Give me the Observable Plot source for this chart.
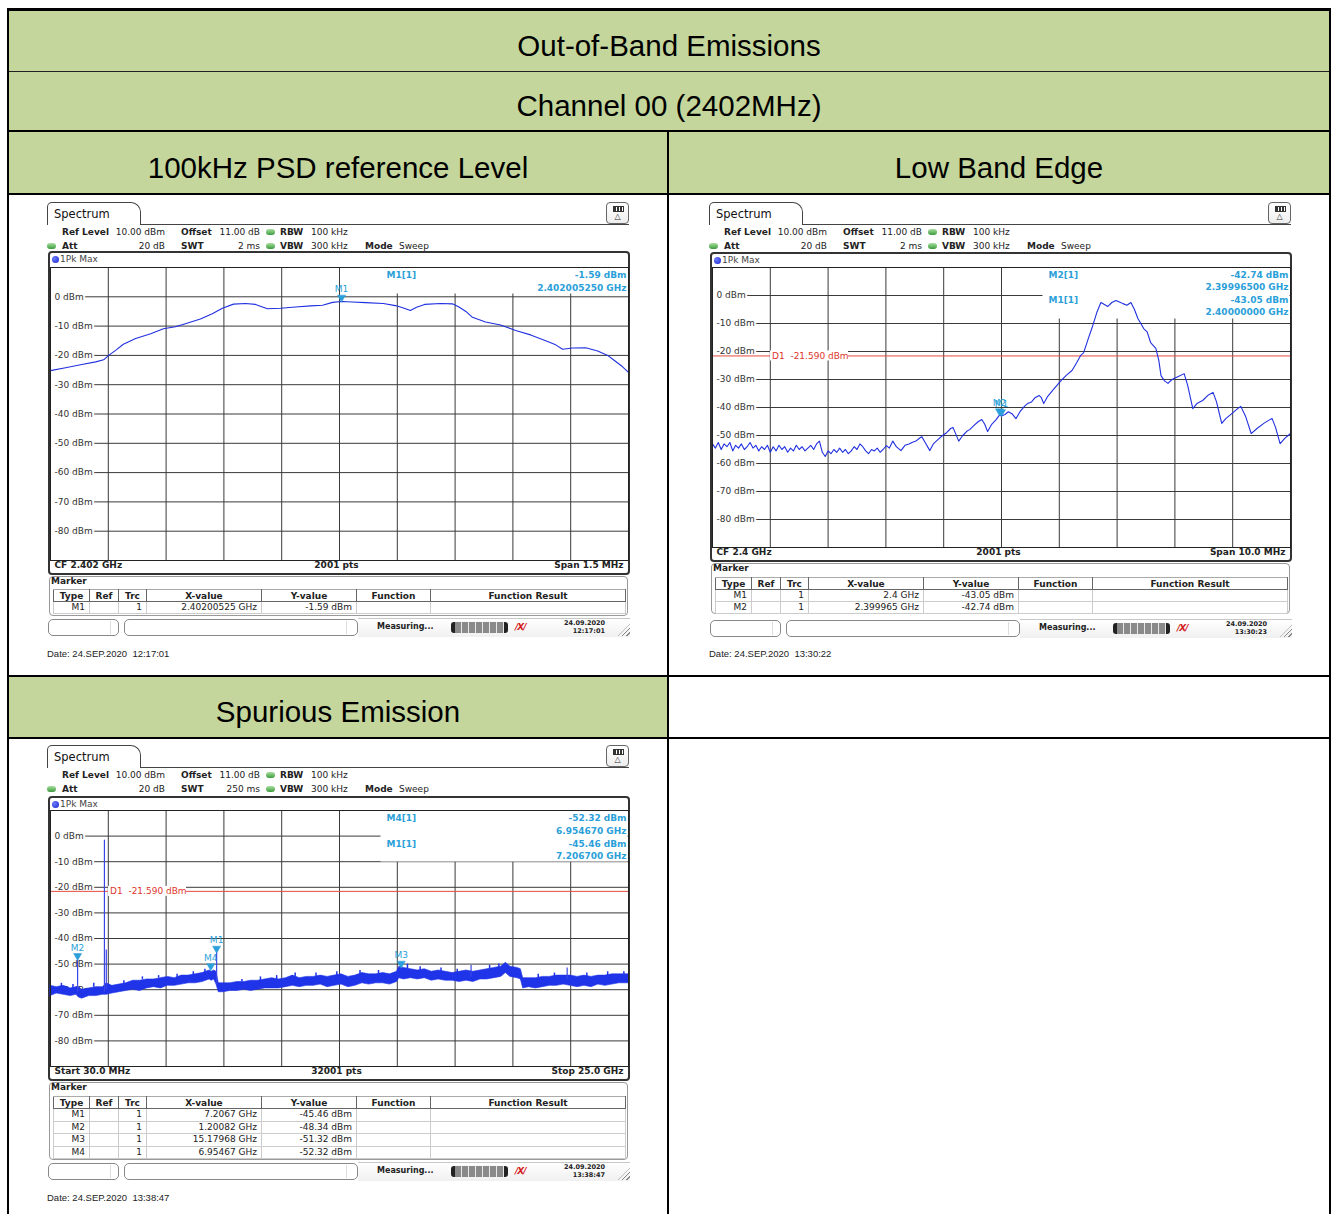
<!DOCTYPE html>
<html><head><meta charset="utf-8">
<script src="https://cdn.jsdelivr.net/npm/d3@7"></script>
<script src="https://cdn.jsdelivr.net/npm/@observablehq/plot@0.6"></script>
<style>
body{margin:0;background:#fff;}
#root{position:relative;width:1339px;height:1214px;overflow:hidden;font-family:"Liberation Sans",Arial,sans-serif;background:#fff;}
.an{font-family:"DejaVu Sans",Verdana,sans-serif;font-size:9px;color:#222;}
table.mk{position:absolute;border-collapse:collapse;table-layout:fixed;font-family:"DejaVu Sans",Verdana,sans-serif;font-size:9px;color:#222;}
table.mk th{font-weight:bold;padding:0;height:11px;line-height:10px;border:1px solid #666;border-top-color:#aaa;text-align:center;}
table.mk td{padding:0 4px 0 0;height:11px;line-height:11px;border:1px solid #ccc;text-align:right;white-space:nowrap;}
</style></head>
<body><div id="root"></div>
<script>
// ---------------- data ----------------
const titles = ["Out-of-Band Emissions", "Channel 00 (2402MHz)"];
const cellTitles = ["100kHz PSD reference Level", "Low Band Edge", "Spurious Emission"];
const yTicks = [0, -10, -20, -30, -40, -50, -60, -70, -80];

// Panel 1: 100kHz PSD reference level (MHz, dBm)
const psdFreq = [2401.250,2401.289,2401.328,2401.367,2401.388,2401.401,2401.419,2401.439,2401.471,2401.510,2401.543,2401.574,2401.600,2401.639,2401.670,2401.696,2401.725,2401.756,2401.782,2401.813,2401.847,2401.886,2401.925,2401.956,2401.982,2402.00525,2402.034,2402.067,2402.114,2402.145,2402.166,2402.184,2402.200,2402.221,2402.262,2402.293,2402.309,2402.330,2402.345,2402.379,2402.418,2402.457,2402.496,2402.535,2402.561,2402.579,2402.605,2402.639,2402.670,2402.696,2402.716,2402.734,2402.750];
const psdLevel = [-25.2,-24.2,-23.2,-22.2,-21.5,-20.0,-18.3,-16.2,-14.2,-12.6,-10.9,-10.2,-9.2,-7.6,-5.8,-3.9,-2.5,-2.3,-2.6,-4.1,-3.9,-3.5,-3.1,-2.9,-1.9,-1.59,-1.8,-2.0,-2.3,-3.0,-3.8,-4.7,-3.6,-2.6,-2.3,-2.4,-3.4,-5.2,-7.0,-8.6,-9.6,-11.5,-13.0,-15.0,-16.4,-17.9,-17.5,-17.4,-18.5,-20.0,-22.0,-23.8,-25.8];
const psdMarkers = [{name:"M1", f:2402.00525, v:-1.59}];
const psdReadout = [["M1[1]","-1.59 dBm"],["","2.402005250 GHz"]];
const psdTable = [["M1","","1","2.40200525 GHz","-1.59 dBm","",""]];

// Panel 2: low band edge (MHz, dBm)
const edgeFreq = [2395.00,2395.05,2395.10,2395.15,2395.20,2395.25,2395.30,2395.35,2395.40,2395.45,2395.50,2395.55,2395.60,2395.65,2395.70,2395.75,2395.80,2395.85,2395.90,2395.95,2396.00,2396.05,2396.10,2396.15,2396.20,2396.25,2396.30,2396.35,2396.40,2396.45,2396.50,2396.55,2396.60,2396.65,2396.70,2396.75,2396.80,2396.85,2396.90,2396.95,2397.00,2397.05,2397.10,2397.15,2397.20,2397.25,2397.30,2397.35,2397.40,2397.45,2397.50,2397.55,2397.60,2397.65,2397.70,2397.75,2397.80,2397.85,2397.90,2397.95,
2398.01,2398.06,2398.12,2398.18,2398.26,2398.33,2398.40,2398.45,2398.52,2398.58,2398.62,2398.68,2398.76,2398.82,2398.90,2398.98,2399.05,2399.12,2399.16,2399.21,2399.26,2399.33,2399.40,2399.45,2399.52,2399.60,2399.66,2399.71,2399.76,2399.83,2399.90,2399.965,2400.00,2400.06,2400.12,2400.18,2400.25,2400.32,2400.40,2400.45,2400.52,2400.58,2400.65,2400.69,2400.73,2400.80,2400.90,2401.03,2401.12,2401.22,2401.30,2401.37,2401.42,2401.50,2401.58,2401.65,2401.72,2401.78,2401.84,2401.91,2401.98,2402.04,2402.10,2402.17,2402.24,2402.30,2402.36,2402.46,2402.52,2402.58,2402.67,2402.72,2402.76,2402.82,2402.88,2402.95,2403.05,2403.16,2403.22,2403.31,2403.38,2403.48,2403.58,2403.66,2403.72,2403.81,2403.88,2403.99,2404.08,2404.14,2404.22,2404.32,2404.42,2404.55,2404.68,2404.74,2404.82,2404.90,2405.00];
const edgeLevel = [-53.0,-54.5,-52.5,-55.0,-53.0,-54.0,-52.5,-55.5,-53.5,-54.5,-53.0,-55.0,-54.0,-52.5,-54.5,-53.5,-55.5,-54.0,-55.0,-53.5,-56.0,-54.0,-55.5,-53.5,-55.0,-54.0,-56.0,-54.5,-55.5,-53.5,-55.0,-54.0,-55.5,-54.5,-53.5,-55.0,-53.0,-52.0,-56.0,-57.5,-55.5,-56.5,-55.0,-56.0,-54.5,-56.0,-55.0,-56.5,-55.5,-54.0,-55.0,-53.0,-54.0,-55.5,-56.5,-55.0,-55.5,-54.5,-56.0,-55.0,
-53.6,-54.5,-52.0,-54.0,-55.4,-53.5,-53.0,-52.5,-52.0,-51.0,-50.4,-52.5,-55.4,-53.0,-51.5,-50.0,-49.0,-47.5,-47.1,-49.5,-52.0,-50.0,-48.5,-47.9,-46.5,-45.0,-44.3,-46.0,-48.6,-46.0,-44.5,-42.74,-43.05,-42.5,-41.5,-42.2,-44.0,-41.5,-39.5,-38.6,-38.0,-36.5,-35.7,-36.5,-38.6,-36.0,-33.5,-30.4,-28.5,-26.8,-24.0,-21.4,-20.5,-15.5,-10.7,-6.0,-2.5,-3.2,-3.9,-2.5,-1.8,-2.3,-2.9,-3.5,-2.5,-5.0,-8.2,-11.8,-13.0,-16.8,-18.9,-23.0,-28.6,-30.5,-31.4,-30.0,-29.0,-27.9,-32.0,-40.4,-38.6,-37.5,-35.5,-34.6,-38.0,-45.7,-44.0,-42.1,-40.5,-39.6,-43.0,-49.3,-47.5,-45.5,-43.9,-47.0,-52.9,-51.0,-49.3];
const edgeMarkers = [{name:"M2", f:2399.965, v:-42.74},{name:"M1", f:2400.0, v:-43.05}];
const edgeReadout = [["M2[1]","-42.74 dBm"],["","2.39996500 GHz"],["M1[1]","-43.05 dBm"],["","2.40000000 GHz"]];
const edgeTable = [["M1","","1","2.4 GHz","-43.05 dBm","",""],["M2","","1","2.399965 GHz","-42.74 dBm","",""]];
const d1Level = -21.59;

// Panel 3: spurious emission (GHz, dBm) noise band lower / upper envelope
const spurFreq = [0.03,0.3,0.6,0.9,1.15,1.25,1.4,1.7,2.0,2.3,2.45,2.7,3.0,3.3,3.6,3.9,4.2,4.5,4.8,5.1,5.4,5.7,6.0,6.3,6.6,6.9,7.0,7.1,7.2,7.3,7.5,7.8,8.1,8.4,8.7,9.0,9.3,9.6,9.9,10.2,10.5,10.8,11.1,11.4,11.7,12.0,12.3,12.6,12.9,13.2,13.5,13.8,14.1,14.4,14.7,15.0,15.1,15.3,15.6,15.9,16.2,16.5,16.8,17.1,17.4,17.7,18.0,18.3,18.6,18.9,19.2,19.5,19.7,19.9,20.2,20.35,20.45,20.7,21.0,21.3,21.6,21.9,22.2,22.5,22.8,23.1,23.4,23.7,24.0,24.3,24.6,25.0];
const spurLo = [-62.5,-61.5,-62,-62.5,-62,-63,-63.5,-62.5,-62.5,-62,-62,-61.5,-61,-60.5,-60,-60.5,-59.5,-59,-59.5,-58.5,-58.5,-58,-57.5,-57.5,-57,-56,-56.5,-56,-58,-61,-61,-60.5,-60.5,-60,-60.5,-60,-59.5,-59.5,-59.5,-59,-58.5,-59,-58.5,-58.5,-58,-59,-58.5,-58,-59,-58.5,-57.5,-58,-57.5,-57.5,-58,-57,-55.5,-56,-55.5,-56,-55.5,-56.5,-56,-56.5,-56.5,-57,-56.5,-57,-56,-56,-55.5,-55,-53.5,-55,-55.5,-56,-59.5,-59,-59.5,-59,-58.5,-58.5,-58,-58.5,-59,-58.5,-59,-58,-58.5,-58,-57.5,-57.5];
const spurHi = [-58.5,-59,-58.5,-59.5,-59,-59,-60,-59.5,-59,-59,-57.5,-58.5,-58,-57.5,-56.5,-56.5,-56,-56,-55.5,-55,-55.5,-54.5,-54.5,-54,-53.5,-52.5,-53,-52.5,-53,-57.5,-57.5,-57.5,-57,-57,-56.5,-56.5,-56,-55.5,-56,-55.5,-54.5,-55.5,-55,-55,-54.5,-55,-54.5,-54,-55,-54.5,-53.5,-54,-54,-53.5,-54,-53,-51,-51.5,-52,-52.5,-52,-53,-52.5,-53,-53.5,-53,-52.5,-53,-52.5,-52,-51.5,-51,-49.5,-51,-51.5,-52,-55.5,-55.5,-55.5,-55,-55,-54.5,-54.5,-54.5,-55,-54.5,-55,-54.5,-54.5,-54,-54,-54];
const spikeFreq = [1.20082, 2.36, 2.44, 7.2067, 18.2, 22.35];
const spikeBase = [-61, -61, -60, -58, -55, -56];
const spikeTop  = [-48.34, -1.6, -44.5, -45.46, -50.5, -51.5];
// small noise peaks standing above the band
const grassFreq = [0.5,1.0,1.9,3.2,4.0,4.7,5.5,6.2,6.7,8.3,9.1,9.8,10.6,11.5,12.4,13.4,14.2,15.45,16.0,16.9,17.6,19.0,19.4,21.1,21.8,23.2,24.1,24.8];
const grassBase = [-59,-59.5,-59,-58,-56,-55.5,-55.5,-54.5,-53.5,-57,-56.5,-56,-55,-55,-54.5,-54,-54,-52,-52.5,-53,-53.5,-52,-51.5,-55.5,-55,-55,-54.5,-54.5];
const grassTop  = [-57.5,-58,-57.5,-56.5,-55,-54.5,-54,-53,-52,-56,-55,-54.5,-53.5,-53.5,-53,-52.5,-52.5,-50,-51,-51.5,-52,-50.5,-50,-54,-53.5,-53.5,-53,-53];
const spurMarkers = [{name:"M2", f:1.20082, v:-48.34},{name:"M4", f:6.95467, v:-52.32},{name:"M1", f:7.2067, v:-45.46},{name:"M3", f:15.17968, v:-51.32}];
const spurReadout = [["M4[1]","-52.32 dBm"],["","6.954670 GHz"],["M1[1]","-45.46 dBm"],["","7.206700 GHz"]];
const spurTable = [["M1","","1","7.2067 GHz","-45.46 dBm","",""],["M2","","1","1.20082 GHz","-48.34 dBm","",""],["M3","","1","15.17968 GHz","-51.32 dBm","",""],["M4","","1","6.95467 GHz","-52.32 dBm","",""]];

const tableHead = ["Type","Ref","Trc","X-value","Y-value","Function","Function Result"];
const setup1 = {ref:"10.00 dBm", offset:"11.00 dB", rbw:"100 kHz", att:"20 dB", swt:"2 ms", vbw:"300 kHz", mode:"Sweep"};
const setup3 = {ref:"10.00 dBm", offset:"11.00 dB", rbw:"100 kHz", att:"20 dB", swt:"250 ms", vbw:"300 kHz", mode:"Sweep"};

// ---------------- helpers ----------------
const NS = "http://www.w3.org/2000/svg";
const root = document.getElementById("root");
function el(p, css, text){ const e = document.createElement("div"); e.style.cssText = "position:absolute;" + css; if (text != null) e.textContent = text; p.appendChild(e); return e; }
function T(p, x, y, s, css = "", align = "left", w = 300){ const left = align === "left" ? x : align === "right" ? x - w : x - w / 2; return el(p, `left:${left}px;top:${y - 7}px;width:${w}px;height:14px;line-height:14px;text-align:${align};white-space:pre;${css}`, s); }
const GREEN = "#c4d69b";

// table frame
el(root, `left:9px;top:11px;width:1320px;height:60px;background:${GREEN}`);
el(root, `left:9px;top:72px;width:1320px;height:58px;background:${GREEN}`);
el(root, `left:9px;top:132px;width:658px;height:61px;background:${GREEN}`);
el(root, `left:669px;top:132px;width:660px;height:61px;background:${GREEN}`);
el(root, `left:9px;top:677px;width:658px;height:60px;background:${GREEN}`);
el(root, `left:7px;top:8px;width:1324px;height:3px;background:#000`);
el(root, `left:7px;top:8px;width:2px;height:1206px;background:#000`);
el(root, `left:1329px;top:8px;width:2px;height:1206px;background:#000`);
el(root, `left:9px;top:71px;width:1320px;height:1px;background:#222`);
el(root, `left:9px;top:130px;width:1320px;height:2px;background:#000`);
el(root, `left:9px;top:193px;width:1320px;height:2px;background:#000`);
el(root, `left:9px;top:675px;width:1320px;height:2px;background:#000`);
el(root, `left:9px;top:737px;width:1320px;height:2px;background:#000`);
el(root, `left:667px;top:130px;width:2px;height:1084px;background:#000`);
[[669,46,titles[0]],[669,106,titles[1]],[338,168,cellTitles[0]],[999,168,cellTitles[1]],[338,712,cellTitles[2]]].forEach(([x,y,s]) => {
  const t = T(root, x, y, s, "font-size:29.5px", "center", 800); t.style.top = (y - 17) + "px"; t.style.height = "34px"; t.style.lineHeight = "34px";
});

// white background panels inside the plot (marker readout block and y-label strip)
function boxMark(dxLeft, h){
  return (index, scales, values, dims) => {
    const g = document.createElementNS(NS, "g");
    const r = document.createElementNS(NS, "rect");
    r.setAttribute("x", dims.marginLeft + dxLeft + 0.5);
    r.setAttribute("y", dims.marginTop + 0.5);
    r.setAttribute("width", dims.width - dims.marginRight - dims.marginLeft - dxLeft - 1);
    r.setAttribute("height", h);
    r.setAttribute("fill", "#fff");
    const s = document.createElementNS(NS, "rect");
    s.setAttribute("x", dims.marginLeft); s.setAttribute("y", dims.marginTop);
    s.setAttribute("width", 4); s.setAttribute("height", dims.height - dims.marginTop - dims.marginBottom);
    s.setAttribute("fill", "#fff");
    g.append(r, s);
    return g;
  };
}
// display line label with its own white box, placed through the y scale
function d1Label(level){
  return (index, scales, values, dims) => {
    const g = document.createElementNS(NS, "g");
    const y = scales.y(level);
    const x = dims.marginLeft + 58;
    const r = document.createElementNS(NS, "rect");
    r.setAttribute("x", x); r.setAttribute("y", y - 5); r.setAttribute("width", 78); r.setAttribute("height", 10); r.setAttribute("fill", "#fff");
    const t = document.createElementNS(NS, "text");
    t.setAttribute("x", x + 2); t.setAttribute("y", y); t.setAttribute("dy", "0.35em");
    t.setAttribute("text-anchor", "start");
    t.setAttribute("fill", "#e0352b"); t.setAttribute("font-size", "9"); t.setAttribute("xml:space", "preserve");
    t.style.whiteSpace = "pre";
    t.textContent = `D1  ${level.toFixed(3)} dBm`;
    g.append(r, t);
    return g;
  };
}

function spectrumPlot(c){
  const [x0, x1] = c.xDomain;
  const grid = d3.range(1, 10).map(i => x0 + i * (x1 - x0) / 10);
  const blue = "#2b9fd9";
  const marks = [
    Plot.ruleY(yTicks, {stroke: "#3a3a3a", strokeWidth: 1}),
    Plot.ruleX(grid, {stroke: "#3a3a3a", strokeWidth: 1}),
    boxMark(330, c.boxH),
    Plot.text(yTicks, {y: d => d, text: d => `${d} dBm`, frameAnchor: "left", dx: 4, textAnchor: "start", fill: "#333", stroke: "#fff", strokeWidth: 4, paintOrder: "stroke"})
  ];
  if (c.d1 != null) {
    marks.push(Plot.ruleY([c.d1], {stroke: "#e8493f", strokeWidth: 1}));
    marks.push(d1Label(c.d1));
  }
  marks.push(...c.trace);
  marks.push(Plot.dot(c.markers, {x: "f", y: "v", symbol: "triangle", rotate: 180, r: 3, fill: blue, stroke: blue, strokeWidth: 0.5, dy: -4}));
  marks.push(Plot.text(c.markers, {x: "f", y: "v", text: "name", dy: -12, fill: blue, fontSize: 9}));
  c.readout.forEach((row, i) => {
    const dy = c.readDy[i];
    if (row[0]) marks.push(Plot.text([row[0]], {text: d => d, frameAnchor: "top-left", dx: 336, dy, textAnchor: "start", fill: blue, fontWeight: "bold"}));
    marks.push(Plot.text([row[1]], {text: d => d, frameAnchor: "top-right", dx: -2, dy, textAnchor: "end", fill: blue, fontWeight: "bold"}));
  });
  marks.push(Plot.frame({stroke: "#222"}));
  marks.push(Plot.text([c.bottom[0]], {text: d => d, frameAnchor: "bottom-left", dx: 4, dy: 7, textAnchor: "start", fontWeight: "bold", fill: "#222"}));
  marks.push(Plot.text([c.bottom[1]], {text: d => d, frameAnchor: "bottom", dx: -3, dy: 7, fontWeight: "bold", fill: "#222"}));
  marks.push(Plot.text([c.bottom[2]], {text: d => d, frameAnchor: "bottom-right", dx: -5, dy: 7, textAnchor: "end", fontWeight: "bold", fill: "#222"}));
  return Plot.plot({
    width: 580, height: 1 + c.gridH + 14,
    marginLeft: 1, marginRight: 1, marginTop: 1, marginBottom: 14,
    x: {domain: c.xDomain, axis: null},
    y: {domain: [-90, 10], axis: null},
    style: {fontFamily: "DejaVu Sans, Verdana, sans-serif", fontSize: "9px", background: "transparent", overflow: "visible"},
    marks
  });
}

function greenDot(p, x, y){ el(p, `left:${x - 4.5}px;top:${y - 3}px;width:9px;height:6px;border-radius:3px;background:linear-gradient(#a8e0a0,#3d9a3d)`); }

function buildPanel(g){
  const p = el(root, `left:${g.x}px;top:0;width:600px;height:1214px;`);
  p.className = "an";
  // tab
  el(p, `left:1px;top:${g.tab}px;width:94px;height:23px;border:1px solid #444;border-bottom:none;border-radius:5px 10px 0 0;box-sizing:border-box;`);
  T(p, 8, g.tab + 12, "Spectrum", "font-size:11.5px;color:#111");
  el(p, `left:94px;top:${g.tab + 22}px;width:489px;height:1px;background:#444`);
  // icon
  const ic = el(p, `left:560px;top:${g.tab}px;width:23px;height:22px;border:1px solid #666;border-radius:4px;box-sizing:border-box;background:linear-gradient(#fff,#eee)`);
  el(ic, `left:6px;top:3px;width:9px;height:4px;border:1px solid #333;background:repeating-linear-gradient(90deg,#333 0 2px,#fff 2px 3px)`);
  T(ic, 10.5, 14, "△", "font-size:8px;color:#333", "center", 20);
  // header
  const s = g.setup, y1 = g.tab + 30, y2 = g.tab + 44;
  T(p, 16, y1, "Ref Level", "font-weight:bold"); T(p, 119, y1, s.ref, "", "right");
  T(p, 135, y1, "Offset", "font-weight:bold"); T(p, 214, y1, s.offset, "", "right");
  greenDot(p, 224, y1); T(p, 234, y1, "RBW", "font-weight:bold"); T(p, 265, y1, s.rbw);
  greenDot(p, 5, y2); T(p, 16, y2, "Att", "font-weight:bold"); T(p, 119, y2, s.att, "", "right");
  T(p, 135, y2, "SWT", "font-weight:bold"); T(p, 214, y2, s.swt, "", "right");
  greenDot(p, 224, y2); T(p, 234, y2, "VBW", "font-weight:bold"); T(p, 265, y2, s.vbw);
  T(p, 319, y2, "Mode", "font-weight:bold"); T(p, 353, y2, s.mode);
  // frame
  el(p, `left:2px;top:${g.frameTop}px;width:582px;height:${g.frameBottom - g.frameTop}px;border:2px solid #333;border-radius:4px;box-sizing:border-box;`);
  el(p, `left:6px;top:${g.frameTop + 5}px;width:7px;height:7px;border-radius:50%;background:radial-gradient(circle at 35% 35%,#6b7bff,#1a24c8)`);
  T(p, 14, g.frameTop + 8, "1Pk Max", "color:#444");
  const holder = el(p, `left:3px;top:${g.gridTop - 1}px;width:580px;`);
  holder.appendChild(spectrumPlot(g.plot));
  // marker table
  el(p, `left:3px;top:${g.mkTop}px;width:579px;height:${g.mkBottom - g.mkTop}px;border:1px solid #999;border-radius:4px;box-sizing:border-box;`);
  T(p, 5, g.mkTop + 5, "Marker", "font-weight:bold");
  const widths = [36, 29, 28, 115, 95, 74, 195];
  let html = `<colgroup>${widths.map(w => `<col style="width:${w}px">`).join("")}</colgroup><tr>${tableHead.map(h => `<th>${h}</th>`).join("")}</tr>`;
  g.table.forEach(r => { html += `<tr>${r.map(v => `<td style="height:${g.rowH - 1}px;line-height:${g.rowH - 1}px">${v}</td>`).join("")}</tr>`; });
  const tb = document.createElement("table"); tb.className = "mk"; tb.innerHTML = html;
  tb.style.cssText = `left:7px;top:${g.mkHead - 6}px;width:572px;`;
  p.appendChild(tb);
  // status bar
  const y = g.status;
  el(p, `left:2px;top:${y}px;width:71px;height:17px;border:1px solid #888;border-radius:5px;box-sizing:border-box;`);
  el(p, `left:64px;top:${y + 2}px;width:1px;height:13px;background:#ddd`);
  el(p, `left:78px;top:${y}px;width:234px;height:17px;border:1px solid #888;border-radius:5px;box-sizing:border-box;`);
  el(p, `left:300px;top:${y + 2}px;width:1px;height:13px;background:#ddd`);
  el(p, `left:312px;top:${y - 1}px;width:272px;height:18px;border-top:1px solid #c8c8c8;background:linear-gradient(#fff,#f0f0f0)`);
  T(p, 331, y + 8, "Measuring...", "font-weight:bold;font-size:8px");
  el(p, `left:405px;top:${y + 3}px;width:57px;height:11px;border-radius:3px;background:repeating-linear-gradient(90deg,#8a8a8a 0 6px,#e8e8e8 6px 7px);border-left:4px solid #222;border-right:4px solid #222;box-sizing:border-box`);
  T(p, 469, y + 8, "/X/", "font-weight:bold;font-style:italic;color:#d42020;font-size:9px;letter-spacing:-1px");
  T(p, 559, y + 4, "24.09.2020", "font-weight:bold;font-size:6.5px;line-height:8px;height:8px", "right").style.top = y + "px";
  T(p, 559, y + 12, g.time, "font-weight:bold;font-size:6.5px;line-height:8px;height:8px", "right").style.top = (y + 8) + "px";
  el(p, `left:572px;top:${y + 5}px;width:12px;height:12px;background:repeating-linear-gradient(135deg,transparent 0 2px,#888 2px 3px);clip-path:polygon(100% 0,100% 100%,0 100%)`);
  T(p, 1, g.dateY, g.date, "font-family:'Liberation Sans',Arial,sans-serif;font-size:9.5px;color:#222");
}

const lineTrace = (f, v) => [Plot.line(f.map((d, i) => ({f: d, v: v[i]})), {x: "f", y: "v", stroke: "#2030e0", strokeWidth: 1.1})];
const spurData = spurFreq.map((d, i) => ({f: d, lo: spurLo[i], hi: spurHi[i]}));
const spikeData = spikeFreq.map((d, i) => ({f: d, b: spikeBase[i], t: spikeTop[i]}));
const grassData = grassFreq.map((d, i) => ({f: d, b: grassBase[i], t: grassTop[i]}));

buildPanel({x: 46, tab: 202, setup: setup1, frameTop: 251, gridTop: 267, frameBottom: 575, mkTop: 576, mkBottom: 616, mkHead: 595, rowH: 12, table: psdTable, status: 619, time: "12:17:01", dateY: 654, date: "Date: 24.SEP.2020  12:17:01",
  plot: {xDomain: [2401.25, 2402.75], gridH: 293, boxH: 26, readout: psdReadout, readDy: [4, 17], markers: psdMarkers, trace: lineTrace(psdFreq, psdLevel), bottom: ["CF 2.402 GHz", "2001 pts", "Span 1.5 MHz"]}});

buildPanel({x: 708, tab: 202, setup: setup1, frameTop: 252, gridTop: 267, frameBottom: 562, mkTop: 563, mkBottom: 614, mkHead: 583, rowH: 12, table: edgeTable, status: 620, time: "13:30:23", dateY: 654, date: "Date: 24.SEP.2020  13:30:22",
  plot: {xDomain: [2395, 2405], gridH: 280, boxH: 51, d1: d1Level, readout: edgeReadout, readDy: [4, 16, 29, 41], markers: edgeMarkers, trace: lineTrace(edgeFreq, edgeLevel), bottom: ["CF 2.4 GHz", "2001 pts", "Span 10.0 MHz"]}});

buildPanel({x: 46, tab: 745, setup: setup3, frameTop: 796, gridTop: 810, frameBottom: 1081, mkTop: 1082, mkBottom: 1160, mkHead: 1102, rowH: 12.5, table: spurTable, status: 1163, time: "13:38:47", dateY: 1198, date: "Date: 24.SEP.2020  13:38:47",
  plot: {xDomain: [0.03, 25], gridH: 256, boxH: 51, d1: d1Level, readout: spurReadout, readDy: [4, 17, 30, 42], markers: spurMarkers,
    trace: [Plot.areaY(spurData, {x: "f", y1: "lo", y2: "hi", fill: "#1f33e8", stroke: "#1f33e8", strokeWidth: 0.6}),
            Plot.ruleX(grassData, {x: "f", y1: "b", y2: "t", stroke: "#1f33e8", strokeWidth: 1.5}),
            Plot.ruleX(spikeData, {x: "f", y1: "b", y2: "t", stroke: "#3a46e6", strokeWidth: 1.2})],
    bottom: ["Start 30.0 MHz", "32001 pts", "Stop 25.0 GHz"]}});
</script>
</body></html>
